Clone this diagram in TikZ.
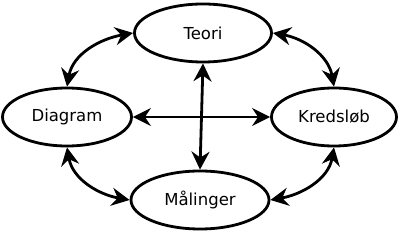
\documentclass[tikz,border=0pt]{standalone}
\usepackage{fontspec}
\setmainfont{DejaVu Sans}
\usetikzlibrary{arrows.meta, shapes.geometric}
\tikzset{
    topic/.style={draw=black, ellipse, line width=2.8pt, minimum height=58pt, inner sep=0pt,
                  font=\fontsize{16.5}{19}\selectfont},
    link/.style={{Stealth[length=18pt, width=18pt, inset=6pt]}-{Stealth[length=18pt, width=18pt, inset=6pt]}, line width=2.8pt},
}

\begin{document}
\begin{tikzpicture}[x=1pt, y=1pt]
    \useasboundingbox (0,0) rectangle (400,233);
    \node[topic, minimum width=137pt] (teori) at (203,200) {Teori};
    \node[topic, minimum width=129pt] (diagram) at (67,116) {Diagram};
    \node[topic, minimum width=125pt] (kreds) at (334,116) {Kredsløb};
    \node[topic, minimum width=138pt] (maal) at (200,33) {Målinger};
    \draw[link] (teori.west) to[out=190, in=80] (diagram.north);
    \draw[link] (teori.east) to[out=-10, in=100] (kreds.north);
    \draw[link] (diagram.south) to[out=-80, in=170] (maal.west);
    \draw[link] (kreds.south) to[out=-100, in=10] (maal.east);
    \draw[link] (diagram.east) -- (kreds.west);
    \draw[link] (teori.south) -- (maal.north);
\end{tikzpicture}
\end{document}
